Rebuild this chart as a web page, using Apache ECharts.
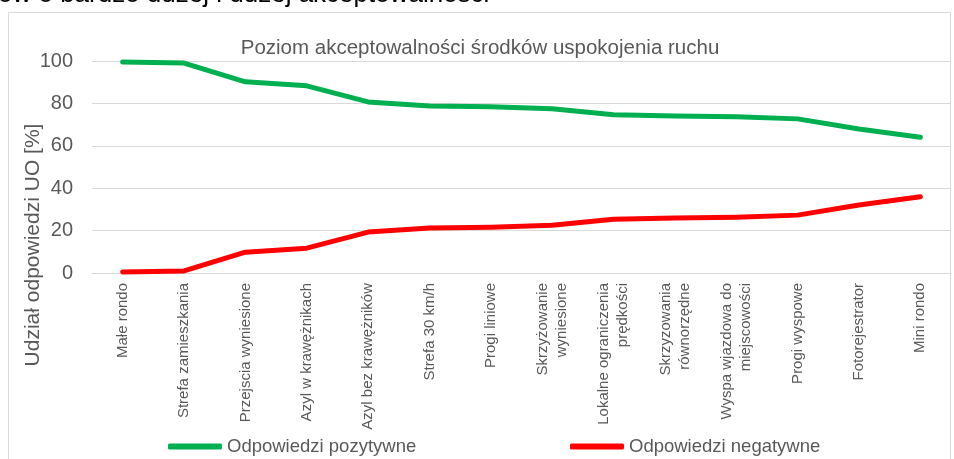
<!DOCTYPE html>
<html>
  <head>
    <meta charset="utf-8">
    <title>index.html</title>
    <style type="text/css">
      html,body{margin:0;padding:0;background:#fff;}
      #chart1{width:954px;height:459px;}
    </style>
    <script type="text/javascript" src="https://cdn.jsdelivr.net/npm/echarts@6/dist/echarts.min.js"></script>
  </head>
  <body>
    <div id="chart1"></div>
  </body>
  <script type="text/javascript">
    // kategorie (środki uspokojenia ruchu)
    var categories = ['Małe rondo', 'Strefa zamieszkania', 'Przejscia wyniesione', 'Azyl w krawężnikach',
      'Azyl bez krawężników', 'Strefa 30 km/h', 'Progi liniowe', 'Skrzyżowanie\nwyniesione',
      'Lokalne ograniczenia\nprędkości', 'Skrzyzowania\nrównorzędne', 'Wyspa wjazdowa do\nmiejscowości',
      'Progi wyspowe', 'Fotorejestrator', 'Mini rondo'];
    var positive = [99.5, 99, 90.2, 88.3, 80.7, 78.8, 78.4, 77.5, 74.6, 74.1, 73.7, 72.7, 67.9, 64];
    var negative = [0.5, 1, 9.8, 11.7, 19.3, 21.2, 21.6, 22.5, 25.4, 25.9, 26.3, 27.3, 32.1, 36];
    var yTicks = [0, 20, 40, 60, 80, 100];

    var grey = '#595959';
    var font = "'Liberation Sans', Arial, sans-serif";
    var myChart = echarts.init(document.getElementById('chart1'));

    myChart.setOption({
      animation: false,
      textStyle: {fontFamily: font},
      title: {
        text: 'Poziom akceptowalności środków uspokojenia ruchu',
        left: 475, top: 33, textAlign: 'center',
        textStyle: {fontSize: 20.5, fontWeight: 'normal', color: grey, fontFamily: font}
      },
      graphic: [
        {type: 'rect', shape: {x: 8.5, y: 12.5, width: 942, height: 500},
          style: {fill: 'none', stroke: '#d9d9d9', lineWidth: 1}, silent: true},
        {type: 'text', left: -2, top: -18,
          style: {text: 'ów o bardzo dużej i dużej akceptowalności', fill: '#000', font: '26px ' + font}},
        {type: 'text', x: 33, y: 245, rotation: Math.PI / 2,
          style: {text: 'Udział odpowiedzi UO [%]', fill: grey, font: '21px ' + font, align: 'center', verticalAlign: 'middle'}}
      ],
      legend: [
        {data: ['Odpowiedzi pozytywne'], left: 163, top: 432, icon: 'roundRect', itemWidth: 54, itemHeight: 6, itemGap: 5,
          textStyle: {fontSize: 18.5, color: grey, fontFamily: font}},
        {data: ['Odpowiedzi negatywne'], left: 565, top: 432, icon: 'roundRect', itemWidth: 54, itemHeight: 6,
          textStyle: {fontSize: 18.5, color: grey, fontFamily: font}}
      ],
      grid: {left: 92, right: 3, top: 61, bottom: 186},
      xAxis: {
        type: 'category',
        data: categories,
        boundaryGap: true,
        axisTick: {show: false},
        axisLine: {lineStyle: {color: '#d9d9d9'}},
        axisLabel: {rotate: 90, margin: 10, fontSize: 15, color: grey, lineHeight: 19, interval: 0, fontFamily: font, align: 'right'}
      },
      yAxis: {
        type: 'value',
        min: yTicks[0], max: yTicks[yTicks.length - 1], interval: 20,
        axisLabel: {fontSize: 20, color: grey, margin: 19, fontFamily: font},
        splitLine: {lineStyle: {color: '#d9d9d9', width: 1}},
        axisLine: {show: false},
        axisTick: {show: false}
      },
      series: [
        {name: 'Odpowiedzi pozytywne', type: 'line', data: positive, showSymbol: false, symbol: 'none',
          itemStyle: {color: '#00B050'}, lineStyle: {color: '#00B050', width: 5, cap: 'round', join: 'round'}},
        {name: 'Odpowiedzi negatywne', type: 'line', data: negative, showSymbol: false, symbol: 'none',
          itemStyle: {color: '#FF0000'}, lineStyle: {color: '#FF0000', width: 5, cap: 'round', join: 'round'}}
      ]
    });
  </script>
</html>
